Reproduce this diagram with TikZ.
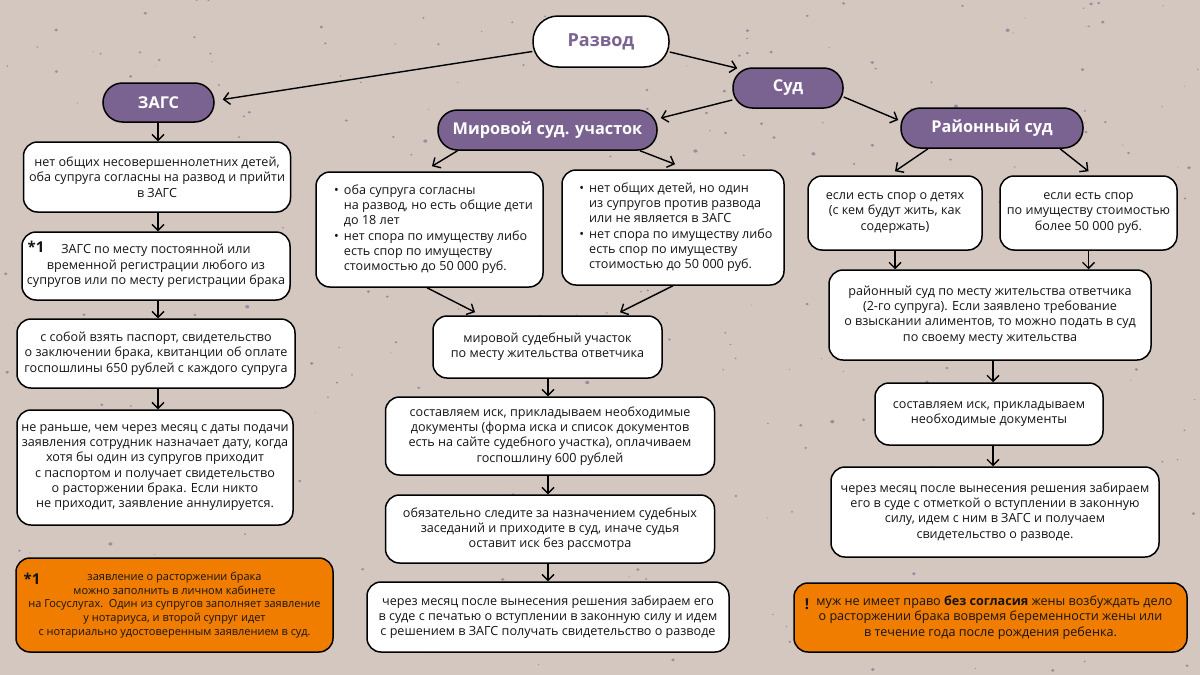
\documentclass[tikz,border=0pt]{standalone}
\usepackage{fontspec}
\setmainfont{Open Sans}
\usetikzlibrary{arrows.meta,calc}
\definecolor{bg}{HTML}{D3C7C0}
\definecolor{speck}{HTML}{9C8CA2}
\definecolor{purp}{HTML}{7B6391}
\definecolor{orng}{HTML}{F07D00}
\definecolor{ink}{HTML}{141414}
\newcommand{\btxt}{\fontsize{12.6}{15.3}\selectfont}
\newcommand{\stxt}{\fontsize{11}{13.7}\selectfont}
\newcommand{\ttl}{\bfseries\fontsize{16.3}{18}\selectfont}
\newcommand{\ttlbig}{\bfseries\fontsize{18}{20}\selectfont}
\tikzset{
  box/.style={draw=black, line width=1.5pt, fill=white, rounded corners=14pt,
    align=center, inner sep=0pt, font=\btxt, text=ink},
  obox/.style={box, fill=orng},
  pill/.style={draw=black, line width=1.5pt, fill=purp, rounded corners=19.5pt,
    inner sep=0pt, font=\ttl, text=white},
  arr/.style={-{Straight Barb[length=6pt,width=12pt]}, line width=1.4pt, draw=black},
  mark1/.style={font=\bfseries\fontsize{15}{15}\selectfont, text=ink, inner sep=0pt},
}
\begin{document}
\begin{tikzpicture}[x=1pt,y=-1pt]
\useasboundingbox (0,0) rectangle (1200,675);
\fill[bg] (0,0) rectangle (1200,675);
% speckled background texture
\pgfmathsetseed{4242}
\foreach \i in {1,...,340}{
  \pgfmathsetmacro{\px}{rnd*1200}
  \pgfmathsetmacro{\py}{rnd*675}
  \pgfmathsetmacro{\pr}{0.5+rnd*1.6}
  \fill[speck] (\px,\py) ellipse [x radius=\pr pt, y radius=0.8*\pr pt];
}
\coordinate (lc) at (158,0);
\coordinate (mc) at (548,0);
\coordinate (rc) at (993,0);

% titles
\node[pill, fill=white, text=purp, font=\ttlbig, minimum width=136pt, minimum height=51pt, rounded corners=25pt] (razvod) at (601,41.5) {Развод};
\node[pill, minimum width=111pt, minimum height=39pt] (zags) at (158.5,102.5) {ЗАГС};
\node[pill, minimum width=110pt, minimum height=40pt] (sud) at (788,88) {Суд};
\node[pill, minimum width=219pt, minimum height=40pt] (mir) at (547.5,130) {Мировой суд. участок};
\node[pill, minimum width=182pt, minimum height=40pt] (ray) at (992,128) {Районный суд};

% left column (ZAGS)
\node[box, minimum width=267pt, minimum height=70pt] (z1) at (157,177) {нет общих несовершеннолетних детей,\\оба супруга согласны на развод и прийти\\в ЗАГС};
\node[box, minimum width=268pt, minimum height=68pt] (z2) at (156,266) {ЗАГС по месту постоянной или\\временной регистрации любого из\\супругов или по месту регистрации брака};
\node[mark1] (z2m) at (36,247) {*1};
\node[box, minimum width=278pt, minimum height=69pt] (z3) at (156,353.5) {с собой взять паспорт, свидетельство\\о заключении брака, квитанции об оплате\\госпошлины 650 рублей с каждого супруга};
\node[box, minimum width=276pt, minimum height=115pt] (z4) at (155,467.5) {не раньше, чем через месяц с даты подачи\\заявления сотрудник назначает дату, когда\\хотя бы один из супругов приходит\\с паспортом и получает свидетельство\\о расторжении брака. Если никто\\не приходит, заявление аннулируется.};
\node[obox, font=\stxt, minimum width=317pt, minimum height=94pt] (ol) at (174.5,605) {заявление о расторжении брака\\можно заполнить в личном кабинете\\на Госуслугах.\ \ Один из супругов заполняет заявление\\у нотариуса, и второй супруг идет\\с нотариально удостоверенным заявлением в суд.};
\node[mark1] (olm) at (32,579) {*1};

% middle column (magistrate)
\node[box, minimum width=227pt, minimum height=115pt] (mL) at (429.5,229.5) {\hspace{8pt}\begin{tabular}{@{}l@{\hspace{5pt}}l@{}}•&оба супруга согласны\\&на развод, но есть общие дети\\&до 18 лет\\•&нет спора по имуществу либо\\&есть спор по имуществу\\&стоимостью до 50 000 руб.\end{tabular}};
\node[box, minimum width=222pt, minimum height=115pt] (mR) at (673,227.5) {\hspace{6pt}\begin{tabular}{@{}l@{\hspace{5pt}}l@{}}•&нет общих детей, но один\\&из супругов против развода\\&или не является в ЗАГС\\•&нет спора по имуществу либо\\&есть спор по имуществу\\&стоимостью до 50 000 руб.\end{tabular}};
\node[box, minimum width=229pt, minimum height=62pt] (mm) at (547.5,347) {мировой судебный участок\\по месту жительства ответчика};
\node[box, minimum width=329pt, minimum height=78pt] (m2) at (550,436) {составляем иск, прикладываем необходимые\\документы (форма иска и список документов\\есть на сайте судебного участка), оплачиваем\\госпошлину 600 рублей};
\node[box, minimum width=329pt, minimum height=68pt] (m3) at (550,529) {обязательно следите за назначением судебных\\заседаний и приходите в суд, иначе судья\\оставит иск без рассмотра};
\node[box, minimum width=362pt, minimum height=70pt] (m4) at (548,617) {через месяц после вынесения решения забираем его\\в суде с печатью о вступлении в законную силу и идем\\с решением в ЗАГС получать свидетельство о разводе};

% right column (district court)
\node[box, minimum width=174pt, minimum height=74pt] (rL) at (895,213) {если есть спор о детях\\(с кем будут жить, как\\содержать)};
\node[box, minimum width=177pt, minimum height=74pt] (rR) at (1088.5,213) {если есть спор\\по имуществу стоимостью\\более 50 000 руб.};
\node[box, minimum width=322pt, minimum height=90pt] (r1) at (990,315) {районный суд по месту жительства ответчика\\(2-го супруга). Если заявлено требование\\о взыскании алиментов, то можно подать в суд\\по своему месту жительства};
\node[box, minimum width=228pt, minimum height=62pt] (r2) at (989,414) {составляем иск, прикладываем\\необходимые документы};
\node[box, minimum width=328pt, minimum height=90pt] (r3) at (995,512) {через месяц после вынесения решения забираем\\его в суде с отметкой о вступлении в законную\\силу, идем с ним в ЗАГС и получаем\\свидетельство о разводе.};
\node[obox, minimum width=393pt, minimum height=69pt] (or) at (990.5,617.5) {\hspace{8pt}муж не имеет право \textbf{без согласия} жены возбуждать дело\\о расторжении брака вовремя беременности жены или\\в течение года после рождения ребенка.};
\node[mark1] (orm) at (807,604) {!};

% connectors
\draw[arr] ($(razvod.west)+(0,10)$) -- ($(zags.east)+(8,-3)$);
\draw[arr] ($(razvod.east)+(0,10.5)$) -- ($(sud.north west)+(5,1)$);
\draw[arr] ($(sud.west)+(0,12)$) -- ($(mir.east)+(3,-12)$);
\draw[arr] ($(sud.east)+(0,9)$) -- ($(ray.west)+(-2,-8)$);
\draw[arr] ($(mir.south)+(-90,0)$) -- ($(mL.north)+(2.5,-5)$);
\draw[arr] ($(mir.south)+(92.5,0)$) -- ($(mR.north)+(2,-5)$);
\draw[arr] ($(ray.south)+(-64,0)$) -- ($(rL.north)+(0,-4)$);
\draw[arr] ($(ray.south)+(68,0)$) -- ($(rR.north)+(0,-4)$);

\draw[arr] (lc |- zags.south) -- (lc |- z1.north);
\draw[arr] (lc |- z1.south) -- (lc |- z2.north);
\draw[arr] (lc |- z2.south) -- (lc |- z3.north);
\draw[arr] (lc |- z3.south) -- (lc |- z4.north);

\draw[arr] ($(mL.south)+(-2.5,0)$) -- ($(mm.north)+(-72.5,-3)$);
\draw[arr] (mR.south) -- ($(mm.north)+(72.5,-3)$);
\draw[arr] (mc |- mm.south) -- (mc |- m2.north);
\draw[arr] (mc |- m2.south) -- (mc |- m3.north);
\draw[arr] (mc |- m3.south) -- (mc |- m4.north);

\draw[arr] (rL.south) -- (rL.south |- r1.north);
\draw[arr] (rR.south) -- (rR.south |- r1.north);
\draw[arr] (rc |- r1.south) -- (rc |- r2.north);
\draw[arr] (rc |- r2.south) -- (rc |- r3.north);
\end{tikzpicture}
\end{document}
